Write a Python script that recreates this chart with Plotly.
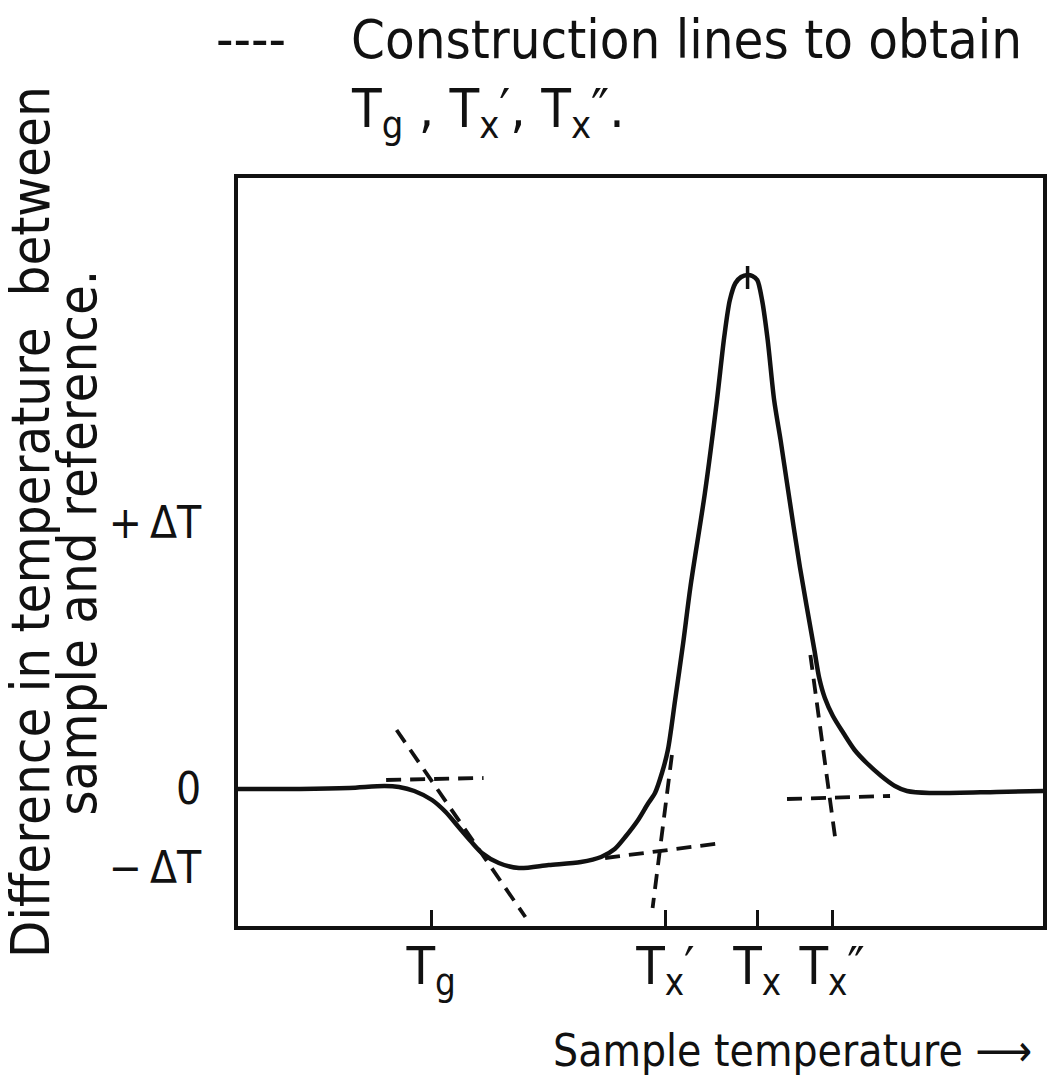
import plotly.graph_objects as go

# ---- data (x = sample temperature, arbitrary units 0-100,
# y = temperature difference, arbitrary units, 0 = baseline) ----
curve_x = [0.0, 7.7, 13.8, 18.2, 20.0, 21.9, 24.1, 25.8, 27.4, 28.9, 30.3, 32.4, 34.9,
           38.6, 42.6, 45.1, 46.8, 48.1, 49.7, 50.9, 51.8, 52.7, 53.4, 54.3, 55.3, 56.2,
           58.0, 59.5, 60.4, 61.1, 61.8, 62.5, 63.3, 63.9, 64.5, 65.1, 65.8, 66.6, 67.4,
           68.2, 69.8, 71.6, 72.2, 72.9, 73.9, 75.2, 76.6, 78.1, 79.9, 81.6, 83.1, 85.9,
           94.2, 100.0]
curve_y = [0.0, 0.0, 0.1, 0.3, 0.2, -0.2, -1.1, -2.3, -3.8, -5.2, -6.4, -7.4, -7.9,
           -7.6, -7.3, -6.8, -6.0, -4.8, -3.1, -1.5, -0.4, 1.7, 3.9, 8.9, 14.6, 20.2,
           29.6, 38.9, 45.2, 48.9, 50.6, 51.2, 51.4, 51.3, 50.9, 48.9, 44.9, 38.9, 34.9,
           30.6, 22.2, 13.9, 11.1, 9.1, 7.3, 5.6, 3.9, 2.6, 1.3, 0.3, -0.2, -0.4,
           -0.3, -0.2]

# construction lines: (x0, y0, x1, y1)
tg_horizontal = [18.4, 0.9, 30.5, 1.1]
tg_tangent = [19.7, 5.9, 35.7, -12.8]
txp_baseline = [45.6, -6.9, 60.2, -5.4]
txp_tangent = [53.9, 3.4, 51.5, -11.9]
txpp_baseline = [68.2, -1.0, 81.0, -0.7]
txpp_tangent = [71.1, 13.4, 74.3, -5.6]
construction = [tg_horizontal, tg_tangent, txp_baseline, txp_tangent, txpp_baseline, txpp_tangent]

# peak marker extents relative to the peak value
peak_mark = [0.9, -1.4]

# tick positions and labels
xtick_vals = [24.0, 53.1, 64.5, 73.8]
xtick_text = ["T<sub>g</sub>", "T<sub>x</sub>′", "T<sub>x</sub>", "T<sub>x</sub>″"]
ytick_vals = [26.6, 0.0, -7.9]
ytick_text = ["+\u2009ΔT", "0", "−\u2009ΔT"]

x_range = [0, 100]
y_range = [-13.7, 61.1]

FONT = "DejaVu Sans Condensed, Liberation Sans Narrow, Liberation Sans, Arial, sans-serif"
INK = "#111111"

# ---- layout geometry (pixels) ----
W, H = 1055, 1084
L, R, T, B = 238, 8, 178, 158
PW, PH = W - L - R, H - T - B


def px(x):
    return (x - L) / PW


def py(y):
    return (H - B - y) / PH


fig = go.Figure()

# construction lines (dashed)
cx, cy = [], []
for seg in construction:
    cx += [seg[0], seg[2], None]
    cy += [seg[1], seg[3], None]
fig.add_trace(go.Scatter(x=cx, y=cy, mode="lines",
                         line=dict(color=INK, width=3.8, dash="15px,9px"),
                         hoverinfo="skip", showlegend=False))

# DTA curve
fig.add_trace(go.Scatter(x=curve_x, y=curve_y, mode="lines",
                         line=dict(color=INK, width=4.5, shape="spline", smoothing=0.8),
                         hoverinfo="skip", showlegend=False))

# peak marker
i_peak = max(range(len(curve_y)), key=lambda i: curve_y[i])
xp, yp = curve_x[i_peak], curve_y[i_peak]
fig.add_trace(go.Scatter(x=[xp, xp], y=[yp + peak_mark[0], yp + peak_mark[1]], mode="lines",
                         line=dict(color=INK, width=3.5), hoverinfo="skip", showlegend=False))

annotations = [
    dict(text="----", x=px(214), y=py(40), xanchor="left", yanchor="middle", font=dict(size=54)),
    dict(text="Construction lines to obtain", x=px(350), y=py(40), xanchor="left", yanchor="middle",
         font=dict(size=54)),
    dict(text="T<sub>g</sub> , T<sub>x</sub>′, T<sub>x</sub>″.", x=px(350), y=py(112),
         xanchor="left", yanchor="middle", font=dict(size=54)),
    dict(text="Sample temperature ⟶", x=px(553), y=py(1050), xanchor="left", yanchor="middle",
         font=dict(size=44)),
    dict(text="Difference in temperature  between", x=px(29), y=py(522), xanchor="center",
         yanchor="middle", textangle=-90, font=dict(size=54)),
    dict(text="sample and reference.", x=px(76), y=py(543), xanchor="center",
         yanchor="middle", textangle=-90, font=dict(size=54)),
]
for a in annotations:
    a.update(xref="paper", yref="paper", showarrow=False)
    a["font"].update(family=FONT, color=INK)

fig.update_layout(
    width=W, height=H,
    margin=dict(l=L, r=R, t=T, b=B, pad=0),
    paper_bgcolor="white", plot_bgcolor="white",
    font=dict(family=FONT, color=INK),
    annotations=annotations,
    showlegend=False,
)
fig.update_xaxes(range=x_range, showgrid=False, zeroline=False, showline=True, linecolor=INK,
                 linewidth=4, mirror=True, ticks="inside", ticklen=16, tickwidth=3, tickcolor=INK,
                 tickvals=xtick_vals, ticktext=xtick_text, tickfont=dict(size=52, family=FONT, color=INK),
                 ticklabelstandoff=-8)
fig.update_yaxes(range=y_range, showgrid=False, zeroline=False, showline=True, linecolor=INK,
                 linewidth=4, mirror=True, ticks="", tickvals=ytick_vals, ticktext=ytick_text,
                 tickfont=dict(size=44, family=FONT, color=INK), ticklabelstandoff=24)

fig.write_html("out.html")
